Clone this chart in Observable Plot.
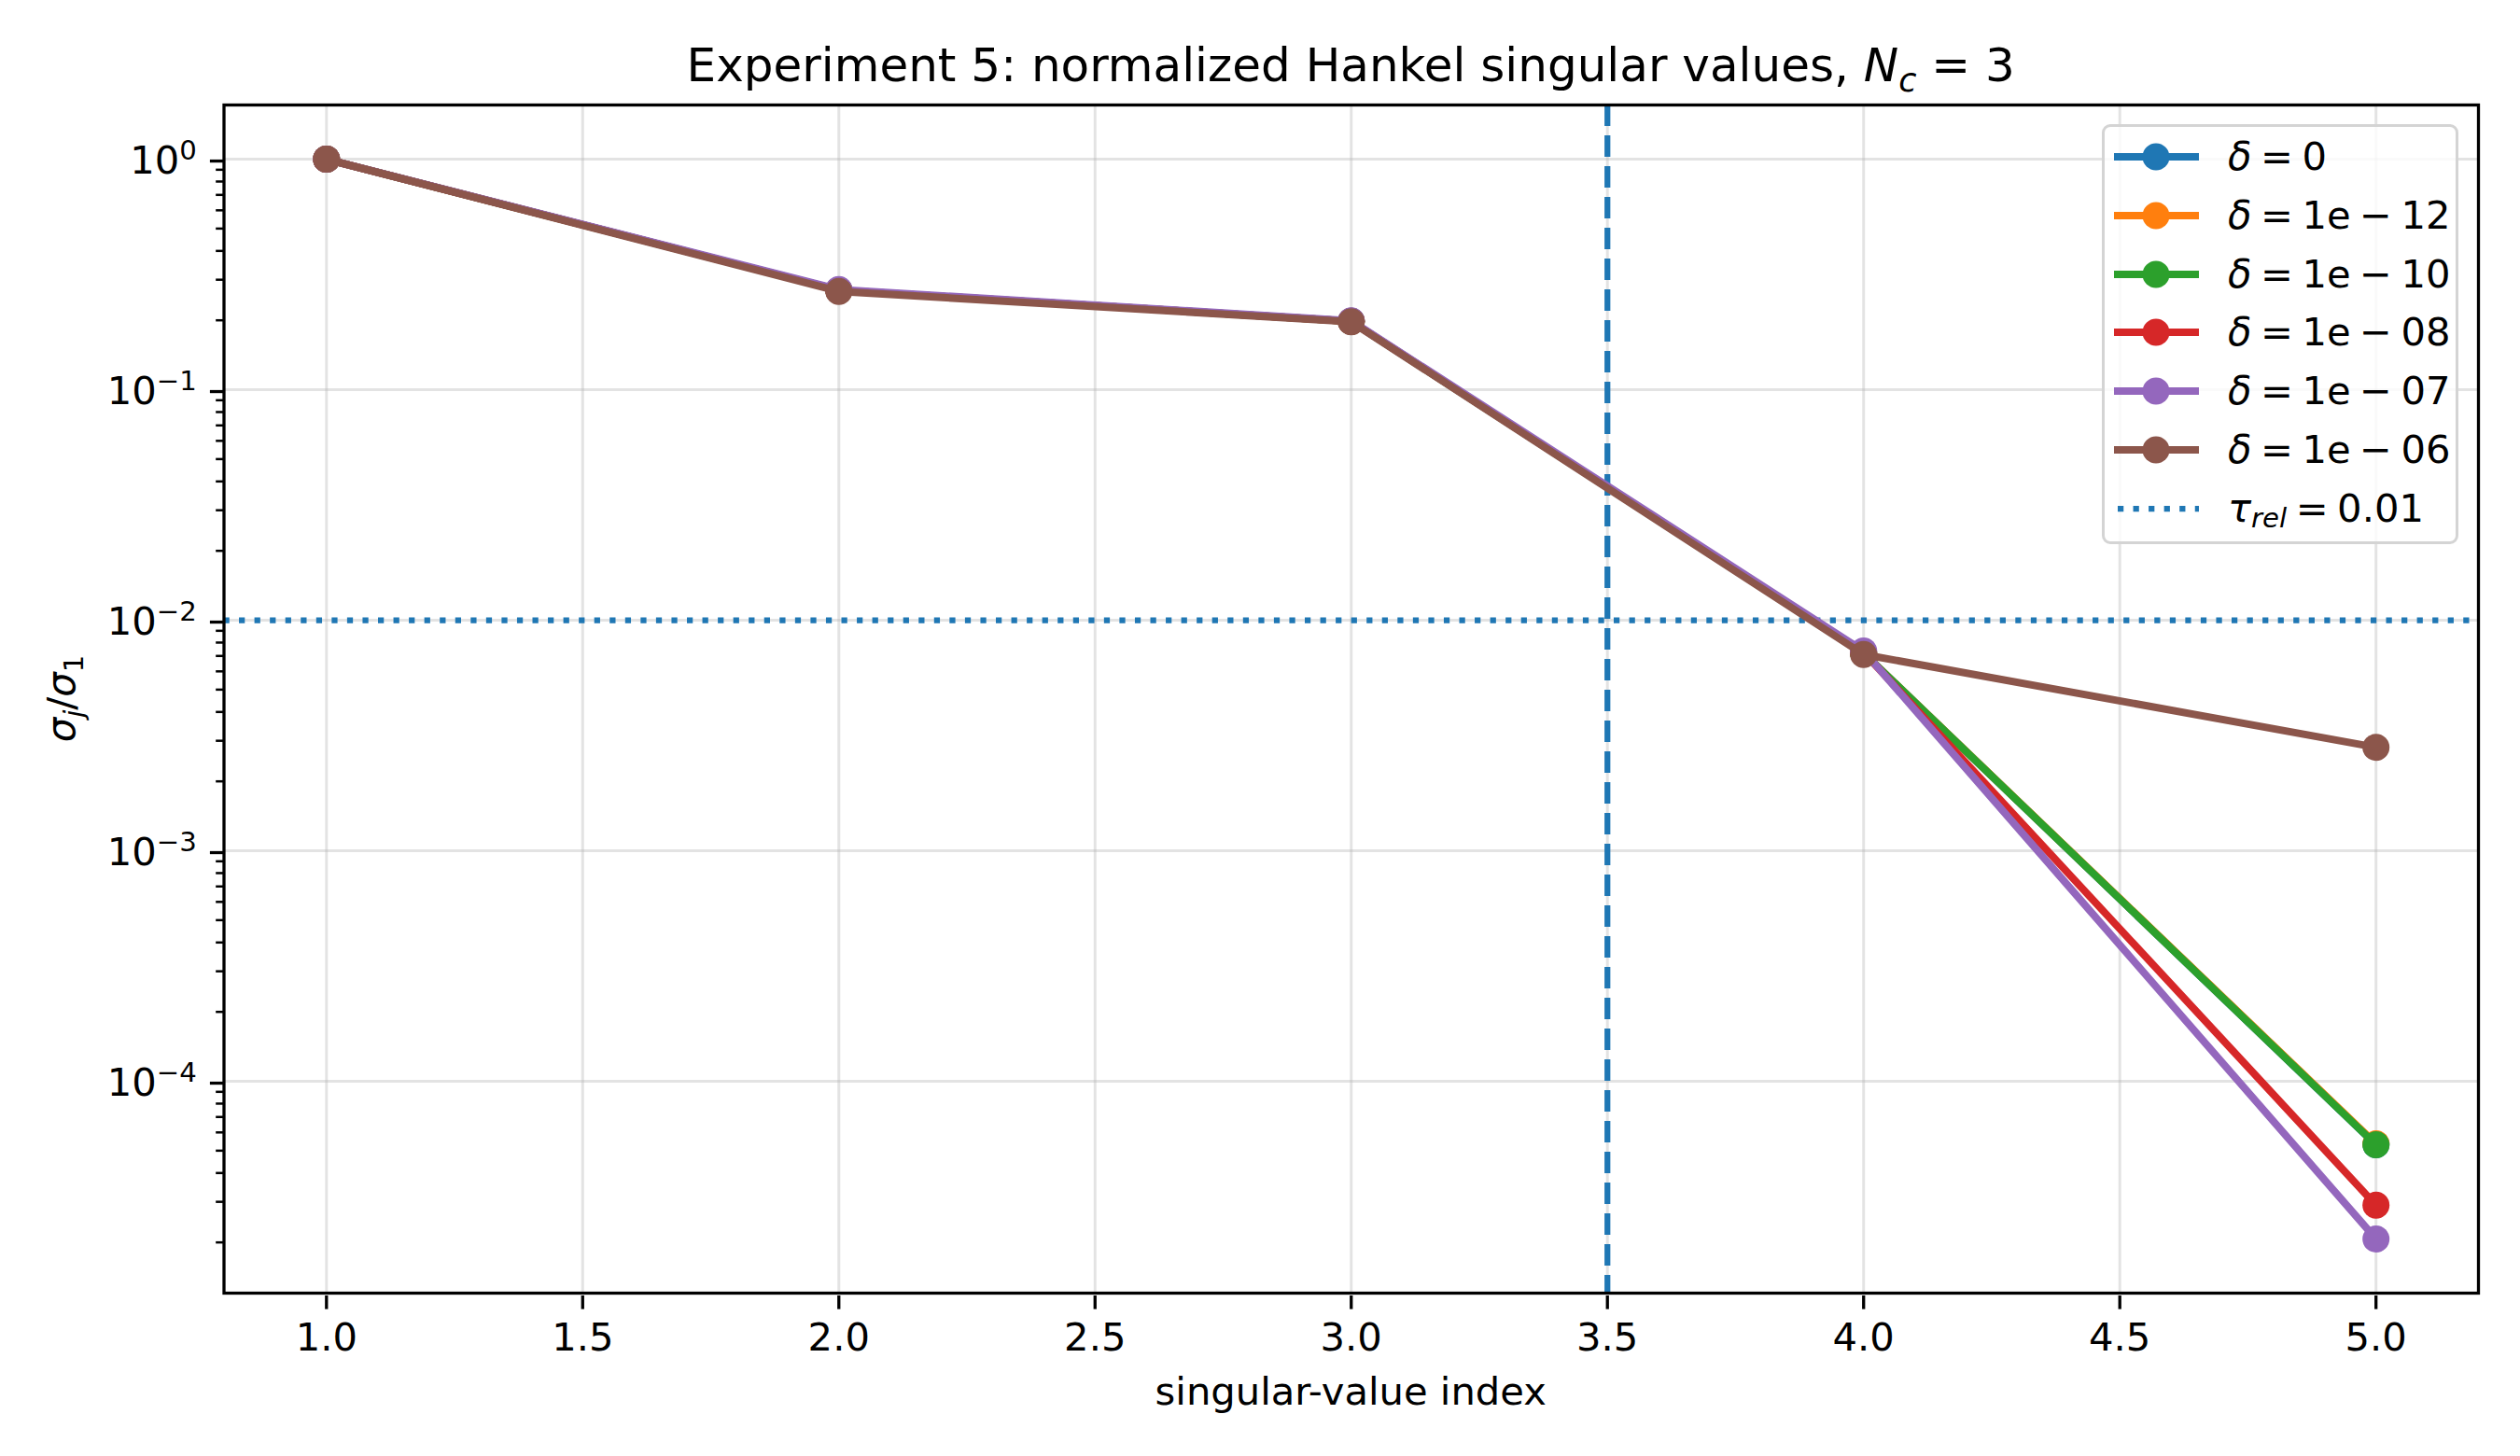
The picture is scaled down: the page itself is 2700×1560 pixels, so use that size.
<!DOCTYPE html>
<html>
<head>
<meta charset="utf-8">
<script src="https://cdn.jsdelivr.net/npm/d3@7"></script>
<script src="https://cdn.jsdelivr.net/npm/@observablehq/plot@0.6"></script>
<style>
html, body { margin: 0; padding: 0; background: #fff; }
#wrap { position: relative; width: 2700px; height: 1560px; font-family: "DejaVu Sans", sans-serif; color: #000; }
.lg-box { position: absolute; box-sizing: border-box; border: 3px solid #d4d4d4; border-radius: 9px; background: rgba(255,255,255,0.8); }
.lg-text { position: absolute; font-size: 41.7px; height: 50px; line-height: 50px; white-space: nowrap; word-spacing: -0.09em; }
.lg-text sub { font-size: 0.7em; vertical-align: -0.22em; line-height: 0; }
</style>
</head>
<body>
<div id="wrap"></div>
<script>
// ---------- data ----------
const indices = [1, 2, 3, 4, 5];
const seriesLabels = ["0", "1e \u2212 12", "1e \u2212 10", "1e \u2212 08", "1e \u2212 07", "1e \u2212 06"];
const seriesColors = ["#1f77b4", "#ff7f0e", "#2ca02c", "#d62728", "#9467bd", "#8c564b"];
const delta0     = [1, 0.270, 0.198, 7.2e-3, 5.3e-5];
const delta1e12  = [1, 0.270, 0.198, 7.2e-3, 5.35e-5];
const delta1e10  = [1, 0.270, 0.198, 7.2e-3, 5.3e-5];
const delta1e08  = [1, 0.270, 0.198, 7.25e-3, 2.9e-5];
const delta1e07  = [1, 0.272, 0.199, 7.35e-3, 2.07e-5];
const delta1e06  = [1, 0.267, 0.197, 7.1e-3, 2.81e-3];
const seriesValues = [delta0, delta1e12, delta1e10, delta1e08, delta1e07, delta1e06];
const thresholdValue = 0.01;      // tau_rel
const cutoffIndex = 3.5;          // vertical dashed marker
const xTicks = [1, 1.5, 2, 2.5, 3, 3.5, 4, 4.5, 5];
const xTickLabels = ["1.0", "1.5", "2.0", "2.5", "3.0", "3.5", "4.0", "4.5", "5.0"];
const yMajorTicks = [1, 0.1, 0.01, 0.001, 0.0001];
const yMajorExponents = ["0", "\u22121", "\u22122", "\u22123", "\u22124"];
const yMinorDecades = [1e-5, 1e-4, 1e-3, 1e-2, 1e-1];
const yMinorMultipliers = [2, 3, 4, 5, 6, 7, 8, 9];
const yMinorTicks = yMinorDecades.flatMap(d => yMinorMultipliers.map(m => m * d));
const xDomain = [0.8, 5.2];
const yDomain = [1.205e-5, 1.718];

// ---------- layout ----------
const W = 2700, H = 1560;
const mL = 239.5, mR = 45, mT = 112, mB = 175;
const FS = 41.7;
const LW = 8;

const series = seriesValues.map((vals, i) => ({
  color: seriesColors[i],
  label: seriesLabels[i],
  rows: indices.map((x, j) => ({ x, y: vals[j] }))
}));

const marks = [
  Plot.gridX(xTicks, { stroke: "#b0b0b0", strokeOpacity: 0.35, strokeWidth: 3 }),
  Plot.gridY(yMajorTicks, { stroke: "#b0b0b0", strokeOpacity: 0.35, strokeWidth: 3 }),
  Plot.ruleY([thresholdValue], { stroke: "#1f77b4", strokeWidth: 6.25, strokeDasharray: "6.25,10.3" }),
  Plot.ruleX([cutoffIndex], { stroke: "#1f77b4", strokeWidth: 6.25, strokeDasharray: "23,10" })
];
series.forEach(s => {
  marks.push(Plot.line(s.rows, { x: "x", y: "y", stroke: s.color, strokeWidth: LW }));
  marks.push(Plot.dot(s.rows, { x: "x", y: "y", fill: s.color, r: 14.5 }));
});
marks.push(Plot.frame({ stroke: "black", strokeWidth: 3.3 }));
marks.push(Plot.axisX({ ticks: xTicks, tickSize: 14.6, tickPadding: 14.6, strokeWidth: 3.3, fontSize: FS,
  tickFormat: d => xTickLabels[xTicks.indexOf(d)], label: null, dy: 3 }));
marks.push(Plot.axisY({ ticks: yMajorTicks, tickSize: 14.6, tickPadding: 14.6, strokeWidth: 3.3, fontSize: FS,
  tickFormat: d => "10^" + yMajorExponents[yMajorTicks.indexOf(d)], label: null, dy: 2 }));
marks.push(Plot.axisY({ ticks: yMinorTicks, tickSize: 8.3, strokeWidth: 2.5, tickFormat: () => "", label: null }));

const chart = Plot.plot({
  width: W, height: H,
  marginLeft: mL, marginRight: mR, marginTop: mT, marginBottom: mB,
  style: { fontFamily: "DejaVu Sans", fontSize: FS + "px", color: "black", background: "white", overflow: "visible" },
  x: { type: "linear", domain: xDomain },
  y: { type: "log", domain: yDomain },
  marks
});
document.getElementById("wrap").appendChild(chart);

const svg = d3.select(chart);

// superscripts on y tick labels
svg.selectAll("text").each(function() {
  const t = d3.select(this);
  const s = t.text();
  if (s.startsWith("10^")) {
    const exp = s.slice(3);
    t.text("");
    t.append("tspan").text("10");
    t.append("tspan").text(exp).attr("font-size", 0.7 * FS).attr("dy", -0.36 * FS);
  }
});

function rich(sel, segs, fs) {
  let cur = 0;
  segs.forEach(s => {
    const off = s.sub ? 0.22 * fs : s.sup ? -0.36 * fs : 0;
    const ts = sel.append("tspan").text(s.t);
    if (off - cur !== 0) ts.attr("dy", off - cur);
    cur = off;
    if (s.it) ts.attr("font-style", "italic");
    if (s.sub || s.sup) ts.attr("font-size", 0.7 * fs);
  });
}

const cx = mL + (W - mL - mR) / 2;
const cy = mT + (H - mT - mB) / 2;

// title
const title = svg.append("text").attr("x", cx).attr("y", 87).attr("text-anchor", "middle")
  .attr("font-size", 50).attr("fill", "black");
rich(title, [
  { t: "Experiment 5: normalized Hankel singular values, " },
  { t: "N", it: true }, { t: "c", it: true, sub: true }, { t: " = 3" }
], 50);

// x label
svg.append("text").attr("x", cx).attr("y", 1505).attr("text-anchor", "middle")
  .attr("font-size", FS).attr("fill", "black").text("singular-value index");

// y label
const yl = svg.append("text").attr("transform", `translate(80,${cy}) rotate(-90)`)
  .attr("text-anchor", "middle").attr("font-size", FS).attr("fill", "black");
rich(yl, [
  { t: "\u03c3", it: true }, { t: "j", it: true, sub: true }, { t: "/" },
  { t: "\u03c3", it: true }, { t: "1", sub: true }
], FS);

// ---------- legend (HTML overlay) ----------
const wrap = d3.select("#wrap");
wrap.append("div").attr("class", "lg-box")
  .style("left", "2252px").style("top", "133px").style("width", "382px").style("height", "450px");
const rowY0 = 168, rowStep = 62.8;
const entries = series.map(s => ({ type: "line", color: s.color, html: `<i>\u03b4</i> = ${s.label}` }));
entries.push({ type: "dotted", color: "#1f77b4", html: `<i>\u03c4</i><sub><i>rel</i></sub> = 0.01` });
entries.forEach((e, i) => {
  const yc = rowY0 + i * rowStep;
  const sw = wrap.append("svg").style("position", "absolute")
    .style("left", "2255px").style("top", (yc - 20) + "px")
    .attr("width", 110).attr("height", 40);
  if (e.type === "line") {
    sw.append("line").attr("x1", 10).attr("x2", 101).attr("y1", 20).attr("y2", 20)
      .attr("stroke", e.color).attr("stroke-width", LW);
    sw.append("circle").attr("cx", 55).attr("cy", 20).attr("r", 14.5).attr("fill", e.color);
  } else {
    sw.append("line").attr("x1", 14).attr("x2", 101).attr("y1", 20).attr("y2", 20)
      .attr("stroke", e.color).attr("stroke-width", 6.25).attr("stroke-dasharray", "6.25,10.3");
  }
  wrap.append("div").attr("class", "lg-text")
    .style("left", "2387px").style("top", (yc - 25) + "px").html(e.html);
});
</script>
</body>
</html>
